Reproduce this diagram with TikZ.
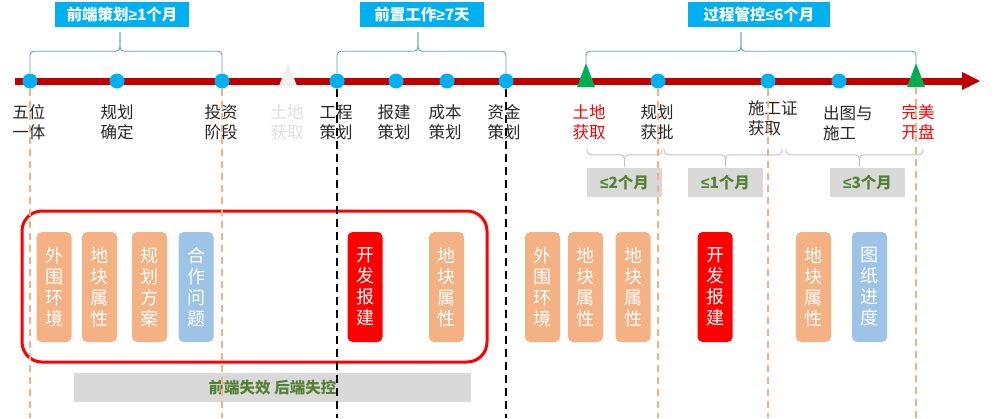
\documentclass[tikz,border=0pt]{standalone}
\usepackage{fontspec}
\setmainfont{Noto Sans CJK SC}
\newfontfamily\symfont{Liberation Sans}
\newcommand{\mygeq}{{\symfont ≥}}
\newcommand{\myleq}{{\symfont ≤}}
\usetikzlibrary{calc}
\definecolor{cyanc}{HTML}{00B0F0}
\definecolor{barred}{HTML}{C00000}
\definecolor{orangec}{HTML}{F4B183}
\definecolor{bluep}{HTML}{9DC3E6}
\definecolor{greenc}{HTML}{00B050}
\definecolor{greent}{HTML}{548235}
\definecolor{grayb}{HTML}{D9D9D9}
\definecolor{bracec}{HTML}{5B9BD5}
\definecolor{lbrace}{HTML}{BFBFBF}
\definecolor{txt}{HTML}{262626}
\tikzset{
  dot/.style={circle,fill=cyanc,inner sep=0pt,minimum size=15pt},
  lbl/.style={font=\fontsize{16.5}{20}\selectfont,text=txt,align=center,inner sep=0pt},
  redlbl/.style={lbl,text=red},
  toplabel/.style={fill=cyanc,text=white,font=\fontsize{15.5}{18}\bfseries\selectfont,inner sep=0pt,minimum height=25pt},
  graylabel/.style={fill=grayb,text=greent,font=\fontsize{15.5}{18}\bfseries\selectfont,inner sep=0pt,minimum height=29pt},
  pill/.style={rounded corners=5pt,minimum width=35pt,minimum height=110pt,inner sep=0pt,text=white,align=center,font=\fontsize{18}{21}\selectfont},
  orpill/.style={pill,fill=orangec},
  blpill/.style={pill,fill=bluep},
  rdpill/.style={pill,fill=red},
  topbrace/.style={draw=bracec,line width=0.9pt,rounded corners=4pt},
  lowbrace/.style={draw=lbrace,line width=0.9pt,rounded corners=4pt},
  ordash/.style={draw=orangec,line width=1.6pt,dash pattern=on 7pt off 5pt},
  bkdash/.style={draw=black,line width=2pt,dash pattern=on 8pt off 5pt},
}
\begin{document}
\begin{tikzpicture}[x=1pt,y=-1pt]
\useasboundingbox (0,0) rectangle (1000,418);
% timeline bar
\draw[barred,line width=7pt] (15,81) -- (964,81);
\fill[barred] (962,72) -- (980,81) -- (962,90) -- cycle;
% dots
\node[dot] (d1) at (30,81) {};
\node[dot] (d2) at (117,81) {};
\node[dot] (d3) at (222,81) {};
\node[dot] (d4) at (337,81) {};
\node[dot] (d5) at (396,81) {};
\node[dot] (d6) at (447,81) {};
\node[dot] (d7) at (506,81) {};
\node[dot] (d8) at (658,81) {};
\node[dot] (d9) at (768,81) {};
\node[dot] (d10) at (839,81) {};
% triangles
\coordinate (t1) at (288,63);
\coordinate (t2) at (586,63);
\coordinate (t3) at (916,63);
\fill[black!6] (t1) -- ++(9,23) -- ++(-18,0) -- cycle;
\fill[greenc] (t2) -- ++(9,24) -- ++(-18,0) -- cycle;
\fill[greenc] (t3) -- ++(9,24) -- ++(-18,0) -- cycle;
% top labels
\node[toplabel,minimum width=134pt] (b1) at (122,14.5) {前端策划\mygeq 1个月};
\node[toplabel,minimum width=124pt] (b2) at (422,14.5) {前置工作\mygeq 7天};
\node[toplabel,minimum width=142pt] (b3) at (759,14.5) {过程管控\myleq 6个月};
% top braces
\draw[topbrace] (d1.north) |- ($(b1.south)+(-2,24)$) -- ($(b1.south)+(-2,5)$);
\draw[topbrace] (d3.north) |- ($(b1.south)+(-2,24)$) -- ($(b1.south)+(-2,5)$);
\draw[topbrace] (d4.north) |- ($(b2.south)+(-4,24)$) -- ($(b2.south)+(-4,5)$);
\draw[topbrace] (d7.north) |- ($(b2.south)+(-4,24)$) -- ($(b2.south)+(-4,5)$);
\draw[topbrace] (t2) |- ($(b3.south)+(-18,24)$) -- ($(b3.south)+(-18,5)$);
\draw[topbrace] (t3) |- ($(b3.south)+(-18,24)$) -- ($(b3.south)+(-18,5)$);
% timeline labels
\node[lbl] (l1) at (29,122) {五位\\一体};
\node[lbl] (l2) at (117,122) {规划\\确定};
\node[lbl] (l3) at (221,122) {投资\\阶段};
\node[lbl,text=black!13] (l4) at (287,122) {土地\\获取};
\node[lbl] (l5) at (336,122) {工程\\策划};
\node[lbl] (l6) at (394,122) {报建\\策划};
\node[lbl] (l7) at (445,122) {成本\\策划};
\node[lbl] (l8) at (504,122) {资金\\策划};
\node[redlbl] (l9) at (589,122) {土地\\获取};
\node[lbl] (l10) at (657,122) {规划\\获批};
\node[lbl,anchor=west,align=left] (l11) at (748,118) {施工证\\获取};
\node[lbl,anchor=west,align=left] (l12) at (823,123) {出图与\\施工};
\node[redlbl] (l13) at (918,122) {完美\\开盘};
% lower gray labels
\node[graylabel,minimum width=75pt] (g1) at (624.5,182.5) {\myleq 2个月};
\node[graylabel,minimum width=75pt] (g2) at (725.5,182.5) {\myleq 1个月};
\node[graylabel,minimum width=75pt] (g3) at (867.5,182.5) {\myleq 3个月};
% lower braces
\coordinate (e1) at (587,148);
\coordinate (e2) at (662,148);
\coordinate (e3) at (664,148);
\coordinate (e4) at (782,148);
\coordinate (e5) at (786,148);
\coordinate (e6) at (923,148);
\draw[lowbrace] (e1) |- ($(g1.north)+(0,-13)$) -- ($(g1.north)+(0,-1)$);
\draw[lowbrace] (e2) |- ($(g1.north)+(0,-13)$) -- ($(g1.north)+(0,-1)$);
\draw[lowbrace] (e3) |- ($(g2.north)+(0,-13)$) -- ($(g2.north)+(0,-1)$);
\draw[lowbrace] (e4) |- ($(g2.north)+(0,-13)$) -- ($(g2.north)+(0,-1)$);
\draw[lowbrace] (e5) |- ($(g3.north)+(-8,-13)$) -- ($(g3.north)+(-8,-1)$);
\draw[lowbrace] (e6) |- ($(g3.north)+(-8,-13)$) -- ($(g3.north)+(-8,-1)$);
% red frame
\draw[red,line width=3pt,rounded corners=20pt] (22,211) rectangle (487,362);
% pills
\node[orpill] (p1) at (54,287) {外\\围\\环\\境};
\node[orpill] (p2) at (99.5,287) {地\\块\\属\\性};
\node[orpill] (p3) at (149.5,287) {规\\划\\方\\案};
\node[blpill] (p4) at (196,287) {合\\作\\问\\题};
\node[rdpill] (p5) at (365,287) {开\\发\\报\\建};
\node[orpill] (p6) at (446.5,287) {地\\块\\属\\性};
\node[orpill] (p7) at (542.5,287) {外\\围\\环\\境};
\node[orpill] (p8) at (585.5,287) {地\\块\\属\\性};
\node[orpill] (p9) at (633,287) {地\\块\\属\\性};
\node[rdpill] (p10) at (715,287) {开\\发\\报\\建};
\node[orpill] (p11) at (813.5,287) {地\\块\\属\\性};
\node[blpill] (p12) at (869.5,287) {图\\纸\\进\\度};
% bottom bar
\node[graylabel,minimum width=397pt] (bb) at (272.5,387.5) {前端失效 后端失控};
% dashed lines
\coordinate (z1) at (30,418);
\coordinate (z3) at (222,418);
\coordinate (z4) at (337,418);
\coordinate (z7) at (506,418);
\coordinate (z8) at (658,418);
\coordinate (z9) at (768,418);
\coordinate (z13) at (916,418);
\draw[ordash] (d1.south) -- (z1);
\draw[ordash] (d3.south) -- (z3);
\draw[ordash] (d8.south) -- (z8);
\draw[ordash] (d9.south) -- (z9);
\draw[ordash] ($(t3)+(0,24)$) -- (z13);
\draw[bkdash] (d4.south) -- (z4);
\draw[bkdash] (d7.south) -- (z7);
\end{tikzpicture}
\end{document}
